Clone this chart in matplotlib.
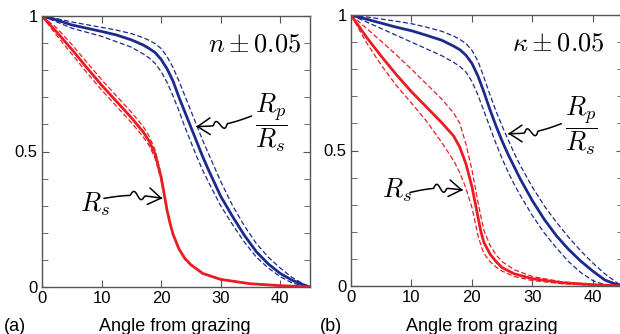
import numpy as np
import matplotlib
matplotlib.use("Agg")
import matplotlib.pyplot as plt
from matplotlib.path import Path
from matplotlib.patches import FancyArrowPatch
from matplotlib.transforms import IdentityTransform

plt.rcParams['font.family'] = ['Liberation Sans', 'DejaVu Sans']
plt.rcParams['mathtext.fontset'] = 'cm'

# angle grids (degrees from grazing)
ang_red = [0, 2.5, 5, 7.5, 10, 12.5, 15, 17, 18, 19, 20, 20.5, 21, 21.5, 22,
           23, 24, 25, 27, 30, 35, 40, 45]
ang_blue = [0, 2.5, 5, 7.5, 10, 12.5, 15, 17, 18, 19, 20, 21, 22, 23, 24, 25,
            26, 27, 28, 30, 32, 34, 36, 38, 40, 42, 44, 45]

# panel (a): n +/- 0.05
rs_a = [1.0, 0.94, 0.877, 0.81, 0.745, 0.685, 0.625, 0.572, 0.538, 0.49, 0.405,
        0.345, 0.283, 0.235, 0.195, 0.14, 0.105, 0.082, 0.05, 0.028, 0.012,
        0.005, 0.0]
rs_a_hi = [1.0, 0.955, 0.895, 0.83, 0.765, 0.705, 0.645, 0.592, 0.556, 0.505,
           0.415, 0.35, 0.286, 0.237, 0.197, 0.142, 0.107, 0.083, 0.051, 0.029,
           0.012, 0.005, 0.0]
rs_a_lo = [1.0, 0.927, 0.86, 0.792, 0.727, 0.667, 0.607, 0.554, 0.521, 0.475,
           0.395, 0.34, 0.28, 0.233, 0.193, 0.138, 0.103, 0.08, 0.049, 0.027,
           0.011, 0.004, 0.0]
rp_a = [1.0, 0.985, 0.967, 0.955, 0.943, 0.93, 0.912, 0.893, 0.88, 0.865, 0.84,
        0.805, 0.76, 0.70, 0.645, 0.59, 0.535, 0.48, 0.43, 0.335, 0.26, 0.19,
        0.13, 0.085, 0.05, 0.025, 0.007, 0.0]
rp_a_hi = [1.0, 0.99, 0.978, 0.968, 0.958, 0.948, 0.935, 0.92, 0.91, 0.898, 0.88,
           0.85, 0.81, 0.76, 0.705, 0.65, 0.595, 0.54, 0.49, 0.39, 0.30, 0.225,
           0.16, 0.11, 0.07, 0.035, 0.01, 0.0]
rp_a_lo = [1.0, 0.978, 0.955, 0.94, 0.925, 0.905, 0.885, 0.86, 0.845, 0.825,
           0.795, 0.755, 0.705, 0.65, 0.59, 0.535, 0.48, 0.43, 0.385, 0.30, 0.23,
           0.165, 0.11, 0.07, 0.038, 0.015, 0.003, 0.0]

# panel (b): kappa +/- 0.05
rs_b = [1.0, 0.92, 0.848, 0.78, 0.717, 0.66, 0.603, 0.553, 0.512, 0.452, 0.367,
        0.312, 0.255, 0.20, 0.16, 0.118, 0.09, 0.068, 0.045, 0.027, 0.012, 0.005,
        0.0]
rs_b_hi = [1.0, 0.952, 0.903, 0.853, 0.80, 0.745, 0.69, 0.638, 0.6, 0.525, 0.43,
           0.37, 0.31, 0.255, 0.205, 0.15, 0.115, 0.09, 0.06, 0.035, 0.015, 0.006,
           0.0]
rs_b_lo = [1.0, 0.90, 0.815, 0.74, 0.675, 0.608, 0.53, 0.462, 0.418, 0.362, 0.29,
           0.24, 0.187, 0.15, 0.12, 0.09, 0.07, 0.055, 0.035, 0.02, 0.008, 0.003,
           0.0]
rp_b = [1.0, 0.985, 0.97, 0.955, 0.942, 0.925, 0.907, 0.885, 0.872, 0.852, 0.822,
        0.775, 0.715, 0.65, 0.59, 0.535, 0.485, 0.44, 0.395, 0.315, 0.245, 0.185,
        0.135, 0.092, 0.055, 0.022, 0.005, 0.0]
rp_b_hi = [1.0, 0.993, 0.985, 0.977, 0.968, 0.955, 0.94, 0.922, 0.91, 0.895,
           0.87, 0.83, 0.77, 0.705, 0.645, 0.59, 0.54, 0.49, 0.445, 0.365, 0.295,
           0.235, 0.18, 0.13, 0.085, 0.045, 0.012, 0.0]
rp_b_lo = [1.0, 0.975, 0.95, 0.925, 0.90, 0.875, 0.85, 0.825, 0.81, 0.79, 0.755,
           0.705, 0.645, 0.585, 0.525, 0.47, 0.42, 0.375, 0.335, 0.26, 0.195,
           0.14, 0.09, 0.05, 0.02, 0.004, 0.0, 0.0]

RED = '#ec1c24'
BLUE = '#1c2a8c'


def squiggle(fig, ax, start, tip):
    # hand-drawn style arrow with a small wiggle, built in display coords
    p0 = ax.transData.transform(start)
    p1 = ax.transData.transform(tip)
    d = p1 - p0
    L = np.hypot(*d)
    u = d / L
    nrm = np.array([-u[1], u[0]])
    t = np.linspace(0, 1, 80)
    off = 3.0 * np.sin(np.pi * t)
    w = (t > 0.45) & (t < 0.7)
    off[w] += 4.0 * np.sin(2 * np.pi * (t[w] - 0.45) / 0.25)
    pts = p0[None, :] + t[:, None] * d[None, :] + off[:, None] * nrm[None, :]
    arr = FancyArrowPatch(path=Path(pts), arrowstyle='->,head_length=0.45,head_width=0.3',
                          mutation_scale=20, lw=1.1, color='black',
                          transform=IdentityTransform(), clip_on=False)
    fig.add_artist(arr)


fig = plt.figure(figsize=(6.2, 3.34), dpi=100)
ax_a = fig.add_axes([42 / 620, 1 - 287 / 334, 268 / 620, 271 / 334])
ax_b = fig.add_axes([351 / 620, 1 - 286 / 334, 272 / 620, 271 / 334])

panels = [
    (ax_a, rs_a, rs_a_hi, rs_a_lo, rp_a, rp_a_hi, rp_a_lo),
    (ax_b, rs_b, rs_b_hi, rs_b_lo, rp_b, rp_b_hi, rp_b_lo),
]

for ax, rs, rs_hi, rs_lo, rp, rp_hi, rp_lo in panels:
    ax.plot(ang_blue, rp_hi, '--', color=BLUE, lw=0.9, dashes=(4, 2))
    ax.plot(ang_blue, rp_lo, '--', color=BLUE, lw=0.9, dashes=(4, 2))
    ax.plot(ang_blue, rp, '-', color=BLUE, lw=2.0)
    ax.plot(ang_red, rs_hi, '--', color=RED, lw=0.9, dashes=(4, 2))
    ax.plot(ang_red, rs_lo, '--', color=RED, lw=0.9, dashes=(4, 2))
    ax.plot(ang_red, rs, '-', color=RED, lw=2.0)
    ax.set_xlim(0, 45)
    ax.set_ylim(0, 1)
    ax.set_xticks([0, 10, 20, 30, 40])
    ax.set_yticks([0, 0.5, 1])
    ax.set_yticklabels(['0', '0.5', '1'])
    ax.set_yticks(np.arange(0, 1.01, 0.1), minor=True)
    ax.tick_params(which='both', direction='in', top=True, right=True,
                   labelsize=12, color='#555555', pad=3)
    ax.tick_params(which='major', length=5)
    ax.tick_params(which='minor', length=4)
    for s in ax.spines.values():
        s.set_color('#555555')
        s.set_linewidth(1.0)

# panel (a) annotations
ax_a.text(43.6, 0.868, r'$n \pm 0.05$', fontsize=19, ha='right', va='baseline')
ax_a.text(38.6, 0.605, r'$\dfrac{R_p}{R_s}$', fontsize=19, ha='center', va='center')
ax_a.text(6.4, 0.28, r'$R_s$', fontsize=19, ha='left', va='baseline')
squiggle(fig, ax_a, (35.2, 0.631), (25.9, 0.592))
squiggle(fig, ax_a, (10.4, 0.327), (20.2, 0.327))

# panel (b) annotations
ax_b.text(42.0, 0.87, r'$\kappa \pm 0.05$', fontsize=19, ha='right', va='baseline')
ax_b.text(38.1, 0.59, r'$\dfrac{R_p}{R_s}$', fontsize=19, ha='center', va='center')
ax_b.text(5.1, 0.326, r'$R_s$', fontsize=19, ha='left', va='baseline')
squiggle(fig, ax_b, (34.8, 0.599), (26.0, 0.562))
squiggle(fig, ax_b, (9.75, 0.345), (18.5, 0.354))

fig.text(4 / 620, 0.01, '(a)', fontsize=13, ha='left', va='baseline')
fig.text(175 / 620, 0.01, 'Angle from grazing', fontsize=13, ha='center', va='baseline')
fig.text(320 / 620, 0.01, '(b)', fontsize=13, ha='left', va='baseline')
fig.text(482 / 620, 0.01, 'Angle from grazing', fontsize=13, ha='center', va='baseline')

fig.savefig('out.png', dpi=100)
